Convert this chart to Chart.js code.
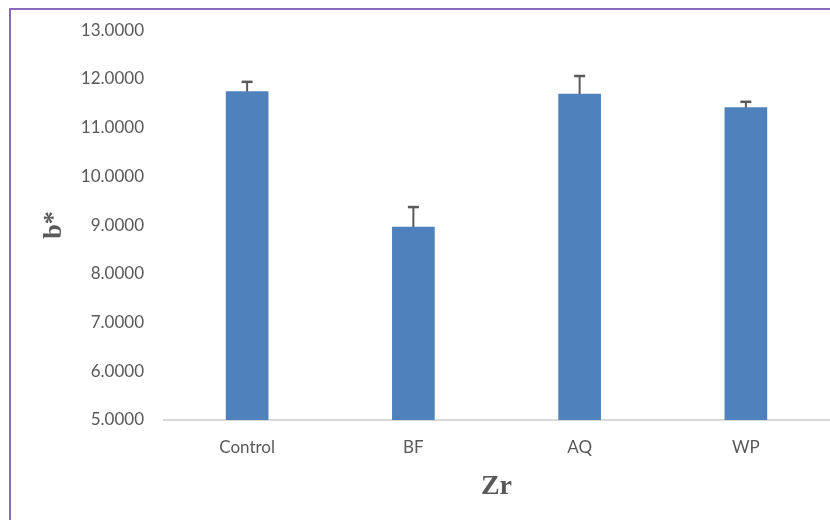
<!DOCTYPE html>
<html>
<head>
<meta charset="utf-8">
<script src="https://cdn.jsdelivr.net/npm/chart.js@4/dist/chart.umd.min.js"></script>
<style>
  html, body { margin: 0; padding: 0; background: #ffffff; }
  #wrap { position: relative; width: 830px; height: 520px; overflow: hidden; background: #ffffff; }
  #frame { position: absolute; left: 9px; top: 8px; width: 900px; height: 600px; border: 2px solid #8a68c0; pointer-events: none; }
  canvas { position: absolute; left: 0; top: 0; }
</style>
</head>
<body>
<div id="wrap">
  <canvas id="c" width="830" height="520"></canvas>
  <div id="frame"></div>
</div>
<script>
// ---- data ----
const categories = ['Control', 'BF', 'AQ', 'WP'];
const meanValues = [11.74, 8.96, 11.69, 11.41];
const errorValues = [0.20, 0.41, 0.37, 0.12];
const yMin = 5;
const yMax = 13;
const yStep = 1;
const xTitle = 'Zr';
const yTitle = 'b*';

// error bars drawn through the chart's own scales
const errorBarPlugin = {
  id: 'errorBars',
  afterDatasetsDraw(chart) {
    const ctx = chart.ctx;
    const meta = chart.getDatasetMeta(0);
    const yScale = chart.scales.y;
    ctx.save();
    ctx.strokeStyle = '#595959';
    meta.data.forEach((bar, i) => {
      const x = bar.x;
      const yTop = yScale.getPixelForValue(meanValues[i] + errorValues[i]);
      const yBase = yScale.getPixelForValue(meanValues[i]);
      ctx.lineWidth = 2;
      ctx.beginPath();
      ctx.moveTo(x, yBase);
      ctx.lineTo(x, yTop);
      ctx.stroke();
      ctx.lineWidth = 2.5;
      ctx.beginPath();
      ctx.moveTo(x - 5.5, yTop);
      ctx.lineTo(x + 5.5, yTop);
      ctx.stroke();
    });
    ctx.restore();
  }
};

new Chart(document.getElementById('c'), {
  type: 'bar',
  data: {
    labels: categories,
    datasets: [{
      data: meanValues,
      backgroundColor: '#4f81bd',
      borderWidth: 0,
      barThickness: 42
    }]
  },
  options: {
    responsive: false,
    animation: false,
    events: [],
    layout: { padding: { left: 0, right: 1, top: 28, bottom: 0 } },
    plugins: { legend: { display: false }, tooltip: { enabled: false } },
    scales: {
      x: {
        grid: { display: false, drawTicks: false },
        border: { display: true, color: '#d9d9d9', width: 2 },
        ticks: { color: '#595959', font: { family: 'Lato', size: 17 }, padding: 17 },
        title: { display: true, text: xTitle, color: '#595959', font: { family: 'Liberation Serif', size: 28, weight: 'bold' }, padding: { top: 0, bottom: 16 } },
        afterFit(scale) { scale.height = 100; }
      },
      y: {
        min: yMin,
        max: yMax,
        grid: { display: false, drawTicks: false },
        border: { display: false },
        ticks: {
          stepSize: yStep,
          color: '#595959',
          font: { family: 'Lato', size: 17 },
          padding: 20,
          callback: (v) => Number(v).toFixed(4)
        },
        title: { display: true, text: yTitle, color: '#595959', font: { family: 'Liberation Serif', size: 26, weight: 'bold' }, padding: { top: 39, bottom: 0 } },
        afterFit(scale) { scale.width = 164; }
      }
    }
  },
  plugins: [errorBarPlugin]
});
</script>
</body>
</html>
